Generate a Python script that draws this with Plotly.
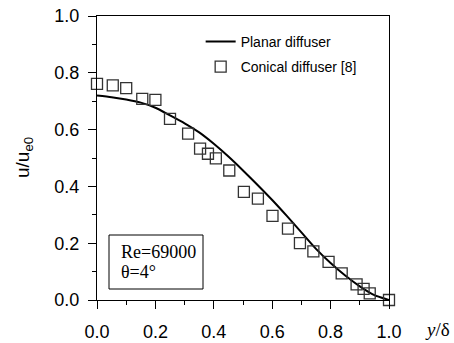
import plotly.graph_objects as go

# Planar diffuser (line)
line_x = [0.0, 0.05, 0.10, 0.15, 0.20, 0.25, 0.30, 0.35, 0.40, 0.45, 0.50,
          0.55, 0.60, 0.65, 0.70, 0.75, 0.80, 0.85, 0.90, 0.95, 1.0]
line_y = [0.720, 0.714, 0.706, 0.695, 0.677, 0.650, 0.622, 0.590, 0.550, 0.505, 0.456,
          0.405, 0.352, 0.296, 0.238, 0.180, 0.130, 0.086, 0.048, 0.017, 0.0]

# Conical diffuser [8] (squares)
pts_x = [0.0, 0.054, 0.10, 0.155, 0.20, 0.25, 0.312, 0.353, 0.38, 0.407, 0.453,
         0.503, 0.551, 0.601, 0.654, 0.695, 0.741, 0.793, 0.838, 0.889, 0.913, 0.934, 1.0]
pts_y = [0.761, 0.756, 0.746, 0.708, 0.705, 0.638, 0.586, 0.533, 0.515, 0.499, 0.456,
         0.381, 0.357, 0.296, 0.251, 0.200, 0.171, 0.134, 0.094, 0.055, 0.039, 0.023, 0.0]

fig = go.Figure()
fig.add_trace(go.Scatter(x=line_x, y=line_y, mode="lines", name="Planar diffuser",
                         line=dict(color="black", width=2, shape="spline", smoothing=0.6),
                         cliponaxis=False, legend="legend"))
fig.add_trace(go.Scatter(x=pts_x, y=pts_y, mode="markers", name="Conical diffuser [8]",
                         marker=dict(symbol="square-open", size=11, color="#333333",
                                     line=dict(width=1.3)),
                         cliponaxis=False, legend="legend2"))

axis_common = dict(range=[0, 1], showgrid=False, zeroline=False, showline=True,
                   linecolor="black", linewidth=1, mirror=True, ticks="outside",
                   ticklen=8, tickwidth=1, tickcolor="black", automargin=False,
                   tickfont=dict(family="Arial", size=18, color="black"),
                   tickformat=".1f", dtick=0.2, tick0=0,
                   minor=dict(ticks="outside", ticklen=4, dtick=0.1, tickcolor="black"))

leg_common = dict(xanchor="left", yanchor="middle", bgcolor="rgba(0,0,0,0)",
                  borderwidth=0, font=dict(family="Arial", size=14, color="black"),
                  itemwidth=30)

fig.update_layout(
    width=454, height=343,
    margin=dict(l=97, r=65, t=16, b=43),
    paper_bgcolor="white", plot_bgcolor="white",
    showlegend=True,
    legend=dict(x=0.355, y=(300-42)/284, **leg_common),
    legend2=dict(x=0.355, y=(300-67)/284, **leg_common),
    xaxis=dict(**axis_common, ticklabelstandoff=7),
    yaxis=dict(**axis_common, ticklabelstandoff=5),
)

fig.add_annotation(xref="paper", yref="paper", x=(24-97)/292, y=(300-158)/284,
                   text="u/u<sub>e0</sub>", showarrow=False, textangle=-90,
                   xanchor="center", yanchor="middle",
                   font=dict(family="Arial", size=19, color="black"))
fig.add_shape(type="rect", xref="paper", yref="paper",
              x0=(109-97)/292, x1=(203-97)/292,
              y0=(300-289)/284, y1=(300-235)/284,
              line=dict(color="black", width=1), fillcolor="white")
fig.add_annotation(xref="paper", yref="paper", x=(119-97)/292, y=(300-252)/284,
                   text="Re=69000", showarrow=False, xanchor="left", yanchor="middle",
                   font=dict(family="Times New Roman, Liberation Serif", size=18, color="black"))
fig.add_annotation(xref="paper", yref="paper", x=(119-97)/292, y=(300-272)/284,
                   text="θ=4°", showarrow=False, xanchor="left", yanchor="middle",
                   font=dict(family="Times New Roman, Liberation Serif", size=18, color="black"))
fig.add_annotation(xref="paper", yref="paper", x=(437-97)/292, y=(300-329)/284,
                   text="<i>y</i>/δ", showarrow=False, xanchor="center", yanchor="middle",
                   font=dict(family="Times New Roman, Liberation Serif", size=19, color="black"))

fig.write_html("out.html")
